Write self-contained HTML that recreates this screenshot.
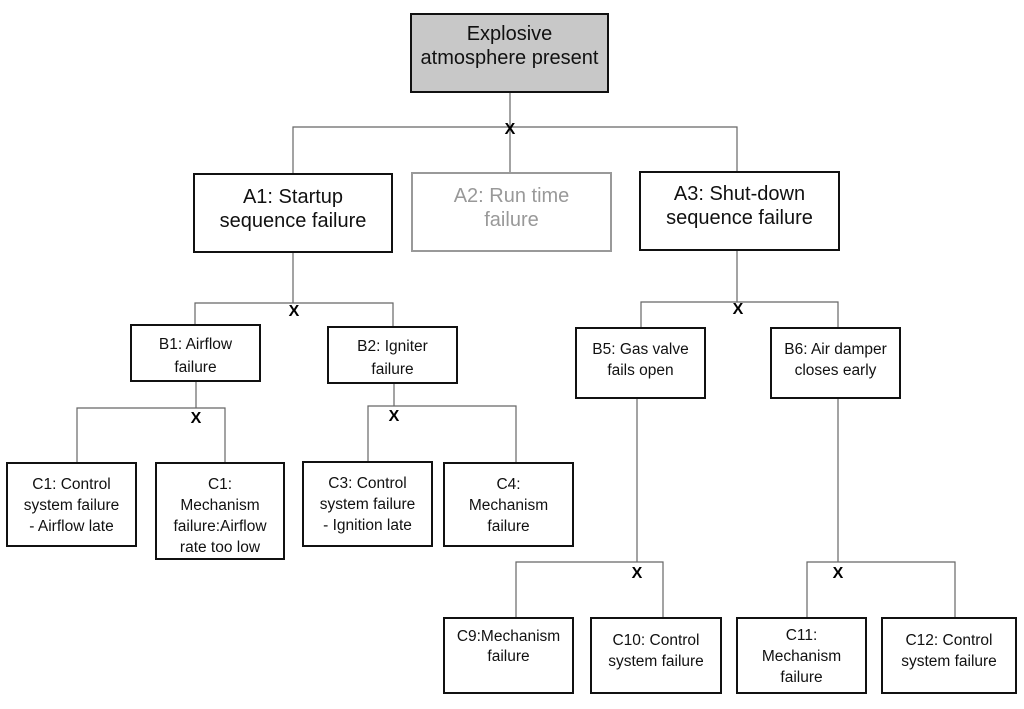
<!DOCTYPE html>
<html><head><style>
body{margin:0;width:1024px;height:709px;background:#fff;position:relative;overflow:hidden;font-family:"Liberation Sans",sans-serif;}
.b{position:absolute;box-sizing:border-box;border:2.5px solid #111;background:#fff;display:flex;flex-direction:column;align-items:center;text-align:center;color:#111;white-space:nowrap;}
.s{font-size:15.5px;line-height:21px;padding-top:10px;}
.l{font-size:20px;line-height:24px;justify-content:flex-start;padding-top:10px;}
.x{position:absolute;font:bold 16px "Liberation Sans",sans-serif;transform:translate(-50%,-50%);}
</style></head><body>
<svg width="1024" height="709" style="position:absolute;left:0;top:0" stroke="#666" stroke-width="1.2" fill="none">
<path d="M510 92V172M293 173V127H737V171"/>
<path d="M293 252V303M195 324V303H393V326"/>
<path d="M737 250V302M641 327V302H838V327"/>
<path d="M196 382V408M77 462V408H225V462"/>
<path d="M394 384V406M368 461V406H516V462"/>
<path d="M637 399V562M516 617V562H663V617"/>
<path d="M838 399V562M807 617V562H955V617"/>
</svg>
<div class="b l" style="left:410px;top:13px;width:199px;height:80px;background:#c8c8c8;padding-top:7px">Explosive<br>atmosphere present</div>
<div class="x" style="left:510px;top:130px">X</div>
<div class="b l" style="left:193px;top:173px;width:200px;height:80px">A1: Startup<br>sequence failure</div>
<div class="b l" style="left:411px;top:172px;width:201px;height:80px;border-color:#999;color:#999;padding-top:10px">A2: Run time<br>failure</div>
<div class="b l" style="left:639px;top:171px;width:201px;height:80px;padding-top:9px">A3: Shut-down<br>sequence failure</div>
<div class="x" style="left:294px;top:312px">X</div>
<div class="x" style="left:738px;top:310px">X</div>
<div class="b s" style="left:130px;top:324px;width:131px;height:58px;padding-top:7px;line-height:23px">B1: Airflow<br>failure</div>
<div class="b s" style="left:327px;top:326px;width:131px;height:58px;padding-top:7px;line-height:23px">B2: Igniter<br>failure</div>
<div class="b s" style="left:575px;top:327px;width:131px;height:72px;padding-top:10px">B5: Gas valve<br>fails open</div>
<div class="b s" style="left:770px;top:327px;width:131px;height:72px;padding-top:10px">B6: Air damper<br>closes early</div>
<div class="x" style="left:196px;top:419px">X</div>
<div class="x" style="left:394px;top:417px">X</div>
<div class="b s" style="left:6px;top:462px;width:131px;height:85px;padding-top:10px">C1: Control<br>system failure<br>- Airflow late</div>
<div class="b s" style="left:155px;top:462px;width:130px;height:98px;padding-top:10px">C1:<br>Mechanism<br>failure:Airflow<br>rate too low</div>
<div class="b s" style="left:302px;top:461px;width:131px;height:86px;padding-top:10px">C3: Control<br>system failure<br>- Ignition late</div>
<div class="b s" style="left:443px;top:462px;width:131px;height:85px;padding-top:10px">C4:<br>Mechanism<br>failure</div>
<div class="x" style="left:637px;top:574px">X</div>
<div class="x" style="left:838px;top:574px">X</div>
<div class="b s" style="left:443px;top:617px;width:131px;height:77px;padding-top:8px;line-height:20px">C9:Mechanism<br>failure</div>
<div class="b s" style="left:590px;top:617px;width:132px;height:77px;padding-top:11px">C10: Control<br>system failure</div>
<div class="b s" style="left:736px;top:617px;width:131px;height:77px;padding-top:6px">C11:<br>Mechanism<br>failure</div>
<div class="b s" style="left:881px;top:617px;width:136px;height:77px;padding-top:11px">C12: Control<br>system failure</div>
</body></html>
